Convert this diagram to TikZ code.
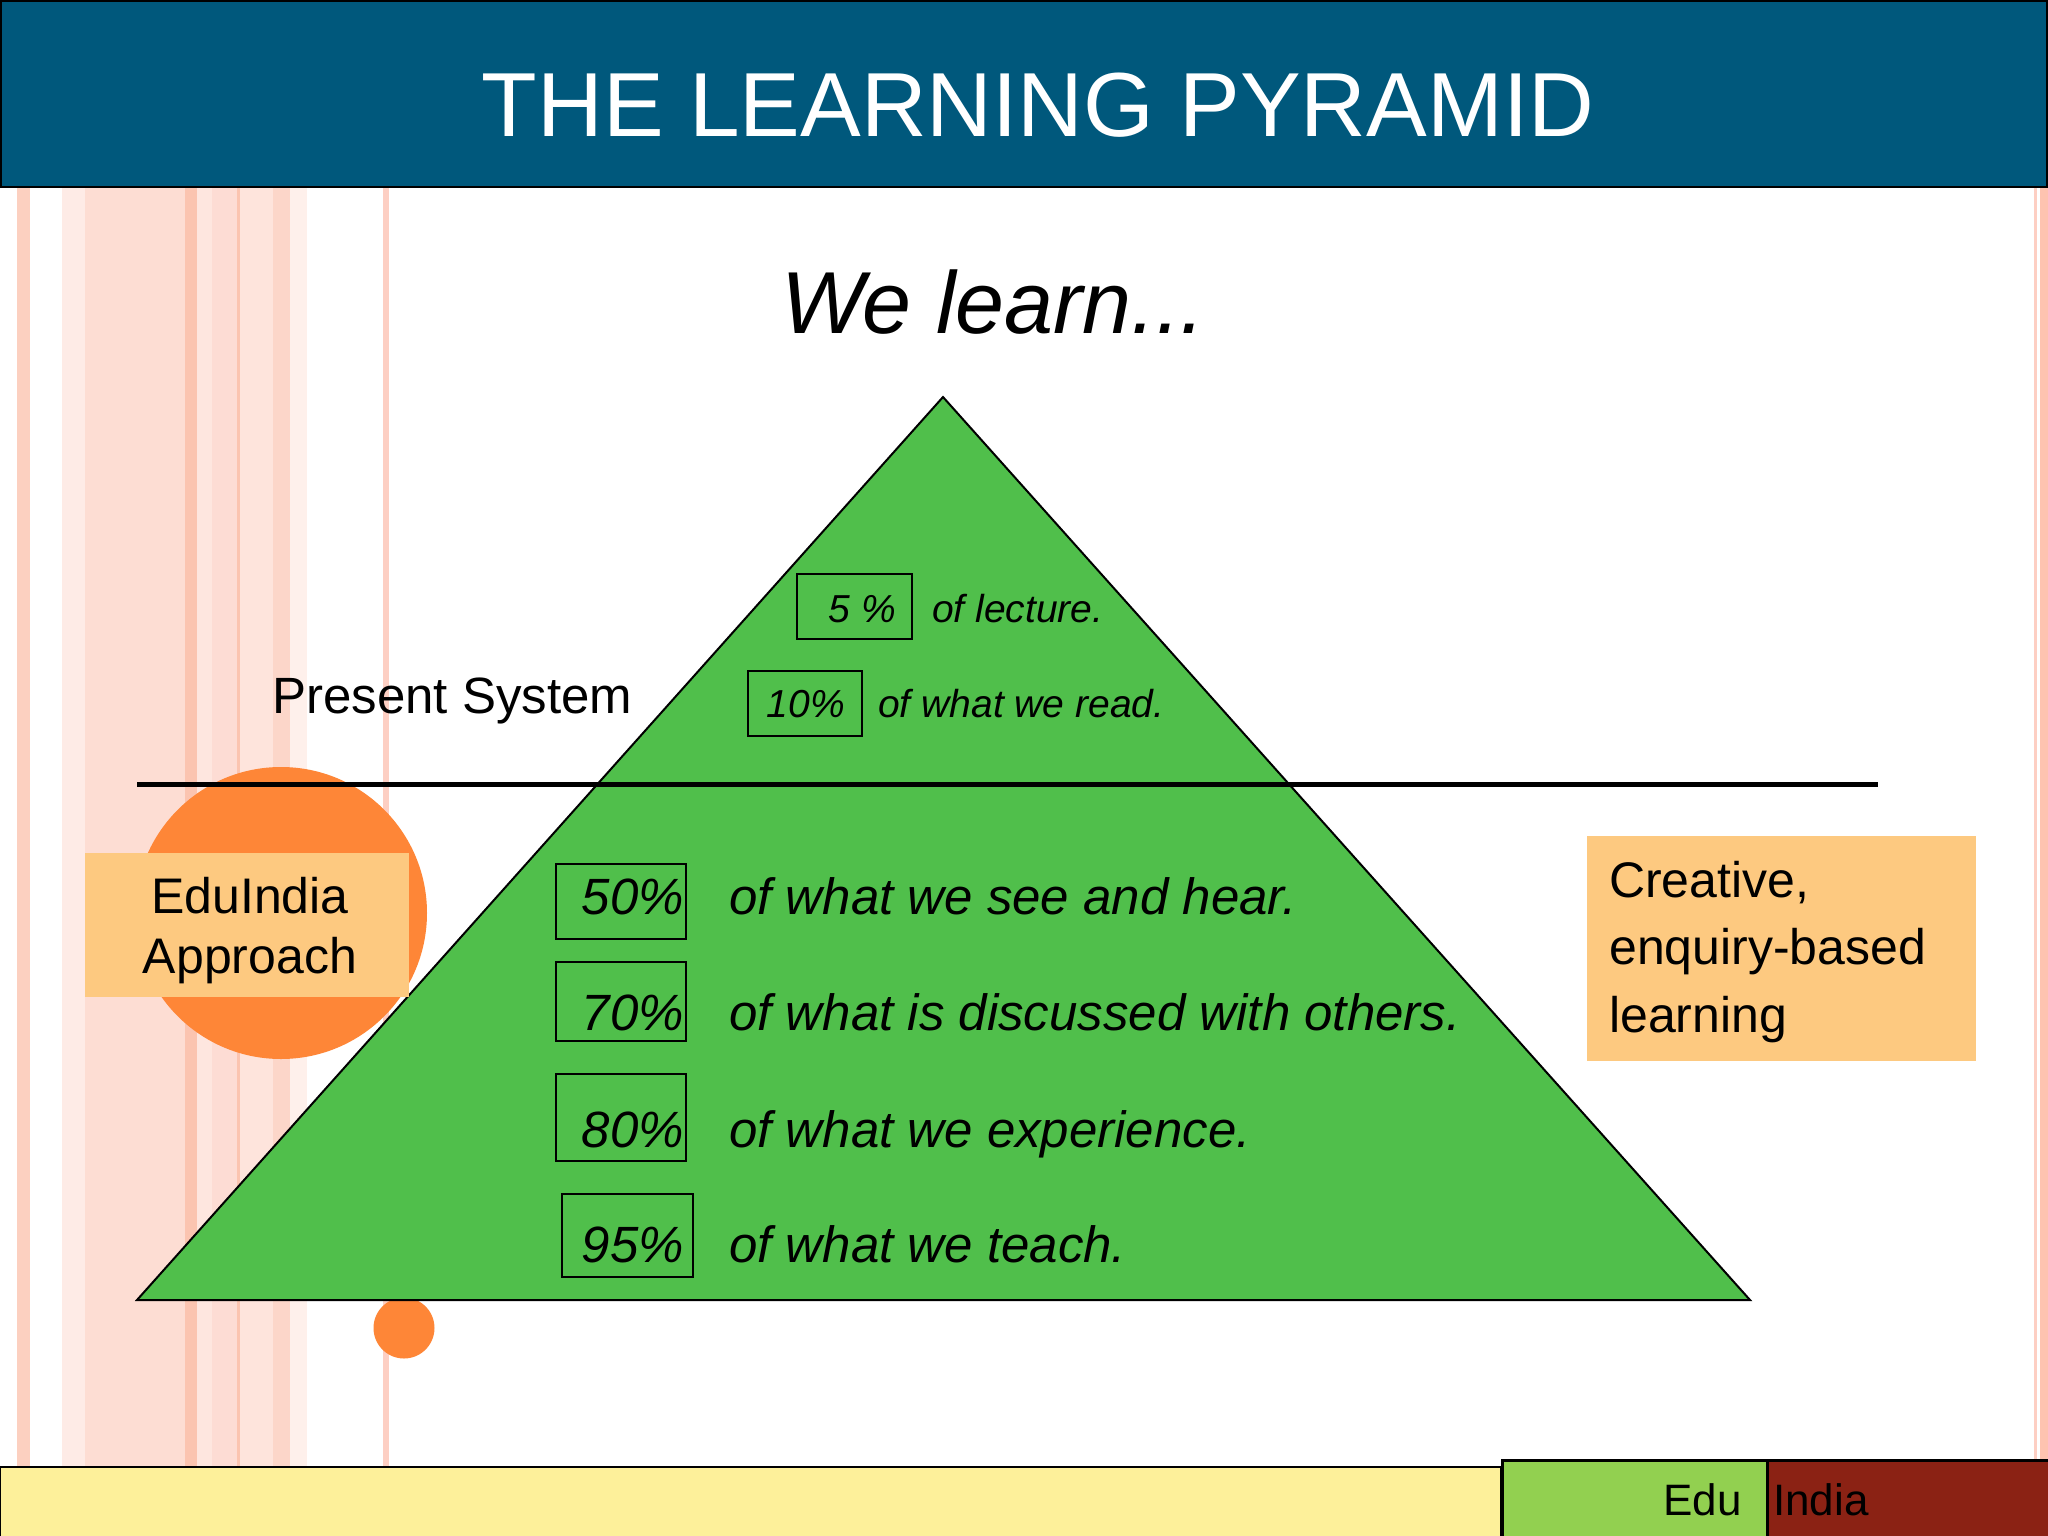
\documentclass[tikz,border=0pt]{standalone}
\usepackage{fontspec}
\setmainfont{Liberation Sans}
\definecolor{titleblue}{RGB}{0,88,124}
\definecolor{pyrgreen}{RGB}{80,191,75}
\definecolor{orng}{RGB}{254,134,55}
\definecolor{peach}{RGB}{253,201,128}
\definecolor{baryellow}{RGB}{253,240,154}
\definecolor{bargreen}{RGB}{146,208,80}
\definecolor{barred}{RGB}{139,34,20}
\definecolor{sA}{HTML}{FCD0C0}
\definecolor{sB}{HTML}{FEEBE6}
\definecolor{sC}{HTML}{FDDDD3}
\definecolor{sD}{HTML}{FBC4B0}
\definecolor{sE}{HTML}{FEE6DF}
\definecolor{sF}{HTML}{FDDCD4}
\definecolor{sG}{HTML}{FEE4DC}
\definecolor{sH}{HTML}{FCD6C9}
\definecolor{sI}{HTML}{FEF0EB}
\definecolor{sJ}{HTML}{FDCFC3}
\definecolor{sK}{HTML}{FEC3B0}
\tikzset{
  pbox/.style={draw=black, line width=2.5pt, inner sep=0pt},
  pctbig/.style={inner sep=0pt, anchor=base east, font=\fontsize{51}{61}\selectfont\itshape},
  txtbig/.style={inner sep=0pt, anchor=base west, font=\fontsize{51}{61}\selectfont\itshape},
  pctsmall/.style={inner sep=0pt, anchor=base east, font=\fontsize{39}{47}\selectfont\itshape},
  txtsmall/.style={inner sep=0pt, anchor=base west, font=\fontsize{39}{47}\selectfont\itshape},
  stripe/.style={fill=#1, draw=none}
}
\begin{document}
\begin{tikzpicture}[x=1pt,y=-1pt]
\useasboundingbox (0,0) rectangle (2048,1536);
\fill[white] (0,0) rectangle (2048,1536);
% stripes
\foreach \a/\b/\c in {17/30/sA,62/85/sB,85/185/sC,185/197/sD,197/212/sE,212/238/sF,237/240/sD,240/273/sG,273/290/sH,290/307/sI,383/389/sJ,2034/2037/sJ,2040/2048/sK}
  \fill[stripe=\c] (\a,188) rectangle (\b,1466);
% title bar
\node[draw=black, line width=2.5pt, fill=titleblue, minimum width=2046pt, minimum height=186pt, inner sep=0pt] (titlebar) at (1024,94) {};
\node[inner sep=0pt, anchor=base, text=white, font=\fontsize{91}{100}\selectfont] (title) at (1038,137) {THE LEARNING PYRAMID};
% bottom bar
\draw[line width=2pt, fill=baryellow] (0,1467) rectangle (1501,1537);
\node[draw=black, line width=2.5pt, fill=bargreen, minimum width=265pt, minimum height=78pt, inner sep=0pt, anchor=north west] (edubox) at (1501,1459) {};
\node[draw=black, line width=2.5pt, fill=barred, minimum width=284pt, minimum height=78pt, inner sep=0pt, anchor=north west] (indiabox) at (1766,1459) {};
\node[inner sep=0pt, anchor=base east, font=\fontsize{44}{52}\selectfont] (edu) at (1742,1515) {Edu};
\node[inner sep=0pt, anchor=base west, font=\fontsize{44}{52}\selectfont] (india) at (1773,1515) {India};
% circles
\node[circle, fill=orng, minimum size=292pt, inner sep=0pt] (bigcircle) at (281,913) {};
\node[circle, fill=orng, minimum size=61pt, inner sep=0pt] (smallcircle) at (404,1328) {};
% pyramid
\coordinate (apex) at (943,397);
\coordinate (bl) at (137,1300);
\coordinate (br) at (1750,1300);
\draw[line width=2pt, fill=pyrgreen] (apex) -- (bl) -- (br) -- cycle;
% boxes
\node[fill=peach, minimum width=324pt, minimum height=144pt, inner sep=0pt] (edubox2) at (247,925) {};
\node[inner sep=0pt, align=center, anchor=base, font=\fontsize{50}{60}\selectfont] (eduindia) at (250,973) {EduIndia\\Approach};
\node[fill=peach, minimum width=389pt, minimum height=225pt, inner sep=0pt, anchor=north west] (creativebox) at (1587,836) {};
\node[inner sep=0pt, align=left, anchor=base west, font=\fontsize{50}{67.5}\selectfont] (creative) at (1609,1032) {Creative,\\enquiry-based\\learning};
% divider line
\coordinate (lineL) at (137,784);
\coordinate (lineR) at (1878,784);
\draw[line width=5pt] (lineL) -- (lineR);
% headings
\node[inner sep=0pt, anchor=base west, font=\fontsize{88}{100}\selectfont\itshape] (welearn) at (781,333) {We learn...};
\node[inner sep=0pt, anchor=base west, font=\fontsize{51}{61}\selectfont] (present) at (272,713) {Present System};
% percentage rows
\draw[pbox] (797,574) rectangle (912,639);
\node[pctsmall] (p5) at (896,622) {5 \%};
\node[txtsmall] (t5) at (932,622) {of lecture.};
\draw[pbox] (748,671) rectangle (862,736);
\node[pctsmall] (p10) at (845,717) {10\%};
\node[txtsmall] (t10) at (878,717) {of what we read.};
\draw[pbox] (556,864) rectangle (686,939);
\node[pctbig] (p50) at (684,914) {50\%};
\node[txtbig] (t50) at (729,914) {of what we see and hear.};
\draw[pbox] (556,962) rectangle (686,1041);
\node[pctbig] (p70) at (684,1030) {70\%};
\node[txtbig] (t70) at (729,1030) {of what is discussed with others.};
\draw[pbox] (556,1074) rectangle (686,1161);
\node[pctbig] (p80) at (684,1147) {80\%};
\node[txtbig] (t80) at (729,1147) {of what we experience.};
\draw[pbox] (562,1194) rectangle (693,1277);
\node[pctbig] (p95) at (684,1262) {95\%};
\node[txtbig] (t95) at (729,1262) {of what we teach.};
\end{tikzpicture}
\end{document}
